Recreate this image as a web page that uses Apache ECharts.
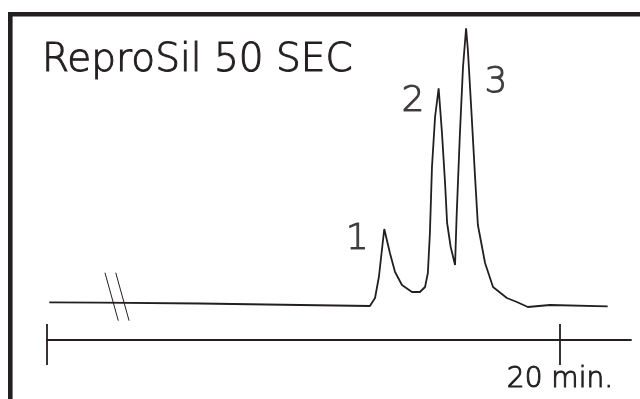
<!DOCTYPE html>
<html>
<head>
<meta charset="utf-8">
<script src="https://cdn.jsdelivr.net/npm/echarts@6/dist/echarts.min.js"></script>
<style>html,body{margin:0;padding:0;background:#fff}#c{width:640px;height:399px}</style>
</head>
<body>
<div id="c"></div>
<script>
// Chromatogram trace: time (min) and detector signal (arbitrary units)
const traceTime = [0.09, 2.07, 5.96, 9.86, 12.59, 12.79, 12.94, 13.15, 13.37, 13.57, 13.84, 14.23, 14.54, 14.74, 14.85, 14.93, 15.01, 15.13, 15.27, 15.40, 15.52, 15.60, 15.74, 15.91, 15.97, 16.10, 16.22, 16.34, 16.41, 16.56, 16.69, 16.80, 17.08, 17.39, 17.93, 18.32, 18.75, 19.61, 21.86];
const traceSignal = [11.78, 11.66, 11.41, 10.94, 10.63, 13.13, 19.69, 34.69, 27.19, 21.25, 17.19, 15.0, 15.0, 16.56, 20.94, 33.44, 54.06, 69.69, 78.66, 64.69, 49.06, 36.56, 29.06, 23.44, 38.44, 64.69, 85.31, 97.41, 90.63, 69.69, 50.94, 35.94, 24.06, 16.56, 13.13, 11.88, 10.31, 10.94, 10.53];

// Peak numbering labels
const peakNames = ['1', '2', '3'];
const peakLabelTime = [12.09, 14.27, 17.50];
const peakLabelSignal = [31.25, 74.4, 80.3];

// Time axis ticks
const xTickValues = [0, 20];
const xTickLabels = ['', '20 min.'];
const xMin = 0, xMax = 22.77;

// Axis break mark (//) in data units
const breakMarks = [
  [[2.26, 21.03], [2.78, 6.03]],
  [[2.68, 21.03], [3.20, 6.03]]
];

const titleText = 'ReproSil 50 SEC';
const FONT = '"DejaVu Sans"';
const WEIGHT = 200;
const INK = '#231f20';
const TXT = {fontFamily: FONT, fontWeight: WEIGHT, color: INK, textBorderColor: INK, textBorderWidth: 1};

const chart = echarts.init(document.getElementById('c'), null, {renderer: 'canvas'});
const trace = traceTime.map((t, i) => [t, traceSignal[i]]);
const peaks = peakNames.map((n, i) => ({name: n, value: [peakLabelTime[i], peakLabelSignal[i]]}));

chart.setOption({
  animation: false,
  backgroundColor: '#fff',
  title: {
    text: titleText, left: 37, top: 36,
    textStyle: Object.assign({fontSize: 39}, TXT)
  },
  graphic: [{
    type: 'rect', silent: true,
    shape: {x: 10.3, y: 14.3, width: 900, height: 700},
    style: {fill: 'none', stroke: INK, lineWidth: 4.6}
  }],
  grid: {left: 47, right: 9, top: 20, bottom: 59},
  xAxis: [{
    type: 'value', min: xMin, max: xMax, position: 'bottom', offset: 0,
    axisLine: {show: true, lineStyle: {color: INK, width: 1.8}},
    axisTick: {show: true, inside: false, length: 25, customValues: xTickValues, lineStyle: {color: INK, width: 1.8}},
    axisLabel: Object.assign({
      show: true, customValues: xTickValues, margin: 26,
      formatter: v => xTickLabels[xTickValues.indexOf(v)] || '',
      fontSize: 28
    }, TXT),
    splitLine: {show: false}
  }, {
    type: 'value', min: xMin, max: xMax, position: 'bottom', offset: 0,
    axisLine: {show: false},
    axisTick: {show: true, inside: true, length: 16, customValues: xTickValues, lineStyle: {color: INK, width: 1.8}},
    axisLabel: {show: false},
    splitLine: {show: false}
  }],
  yAxis: {type: 'value', min: 0, max: 100, show: false},
  series: [{
    type: 'line', data: trace, xAxisIndex: 0, symbol: 'none', smooth: false,
    lineStyle: {color: INK, width: 1.8},
    markLine: {
      silent: true, symbol: 'none', label: {show: false},
      lineStyle: {color: INK, width: 1, type: 'solid'},
      data: breakMarks.map(m => [{coord: m[0]}, {coord: m[1]}])
    }
  }, {
    type: 'scatter', data: peaks, xAxisIndex: 0, symbolSize: 0,
    label: Object.assign({show: true, position: 'inside', formatter: p => p.name, fontSize: 36}, TXT)
  }]
});
</script>
</body>
</html>
